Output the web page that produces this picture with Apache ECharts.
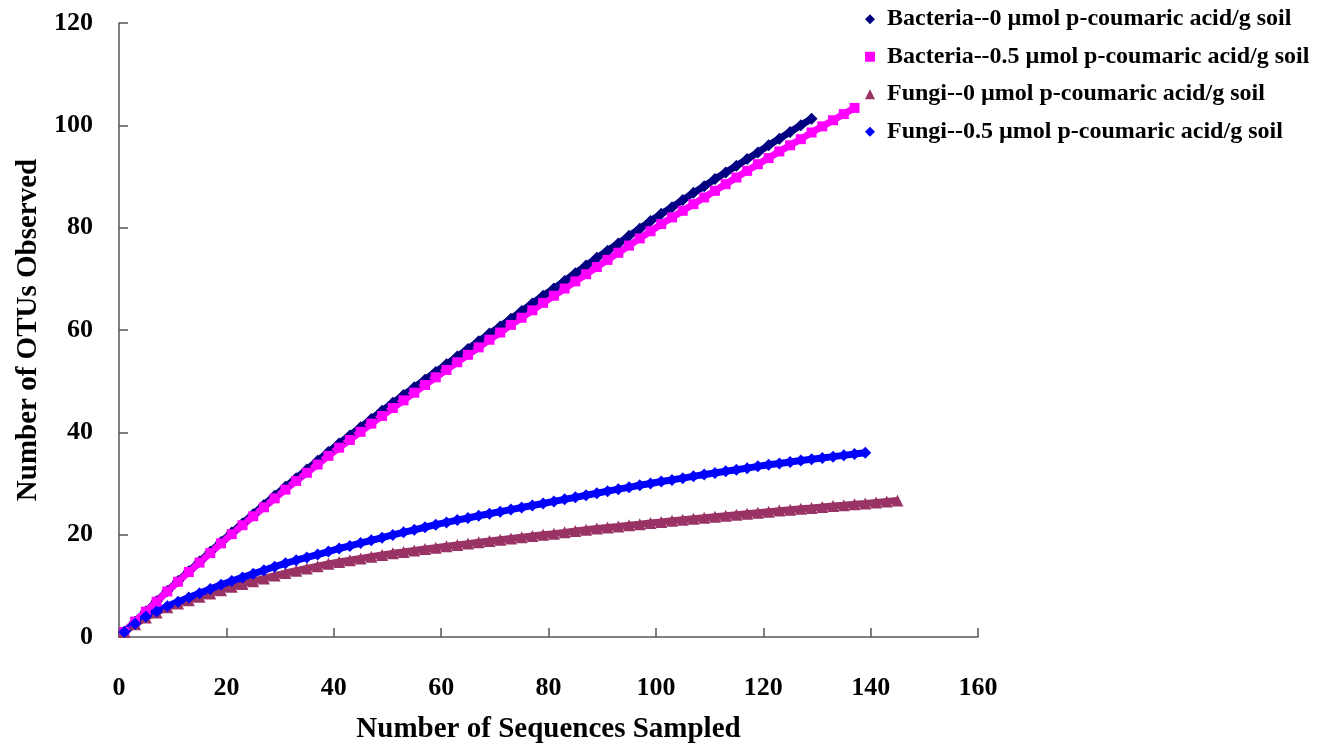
<!DOCTYPE html>
<html>
<head>
<meta charset="utf-8">
<script src="https://cdn.jsdelivr.net/npm/echarts@6/dist/echarts.min.js"></script>
<style>
html,body{margin:0;padding:0;background:#fff;}
#chart{width:1335px;height:744px;}
</style>
</head>
<body>
<div id="chart"></div>
<script>
// Series names (legend)
const seriesNames = [
  "Bacteria--0 \u00b5mol p-coumaric acid/g soil",
  "Bacteria--0.5 \u00b5mol p-coumaric acid/g soil",
  "Fungi--0 \u00b5mol p-coumaric acid/g soil",
  "Fungi--0.5 \u00b5mol p-coumaric acid/g soil"
];

// Sampling: x = 1, 3, 5, ... (number of sequences sampled)
const xStart = 1;
const xStep = 2;

// Number of OTUs observed
const bacteria0 = [
  1.0, 3.0, 5.0, 7.0, 9.0, 10.95, 12.85, 14.75, 16.65, 18.55,
  20.4, 22.2, 24.0, 25.8, 27.6, 29.35, 31.05, 32.75, 34.45, 36.15,
  37.8, 39.4, 41.0, 42.6, 44.2, 45.76, 47.3, 48.8, 50.3, 51.8,
  53.3, 54.8, 56.3, 57.8, 59.3, 60.7, 62.2, 63.7, 65.2, 66.7,
  68.1, 69.6, 71.1, 72.6, 74.1, 75.5, 76.9, 78.4, 79.8, 81.3,
  82.7, 84.0, 85.4, 86.8, 88.1, 89.5, 90.8, 92.1, 93.4, 94.7,
  96.1, 97.4, 98.7, 100.0, 101.3
];
const bacteria05 = [
  1.0, 3.0, 4.95, 6.9, 8.9, 10.8, 12.7, 14.55, 16.4, 18.3,
  20.1, 21.85, 23.6, 25.35, 27.1, 28.8, 30.5, 32.1, 33.7, 35.4,
  37.0, 38.5, 40.1, 41.7, 43.2, 44.75, 46.25, 47.75, 49.25, 50.75,
  52.2, 53.7, 55.15, 56.6, 58.1, 59.5, 61.0, 62.4, 63.85, 65.3,
  66.7, 68.1, 69.5, 70.9, 72.3, 73.7, 75.1, 76.5, 77.9, 79.3,
  80.7, 82.0, 83.3, 84.6, 85.9, 87.2, 88.5, 89.8, 91.1, 92.4,
  93.6, 94.9, 96.1, 97.3, 98.6, 99.8, 101.0, 102.2, 103.4
];
const fungi0 = [
  1.0, 2.5, 3.8, 4.8, 5.8, 6.55, 7.2, 7.85, 8.5, 9.15,
  9.8, 10.35, 10.9, 11.45, 12.0, 12.5, 12.95, 13.4, 13.85, 14.3,
  14.65, 15.0, 15.35, 15.7, 16.05, 16.35, 16.6, 16.9, 17.2, 17.45,
  17.75, 18.0, 18.25, 18.5, 18.75, 19.0, 19.25, 19.5, 19.75, 20.0,
  20.2, 20.45, 20.7, 20.95, 21.2, 21.4, 21.6, 21.85, 22.05, 22.3,
  22.5, 22.7, 22.9, 23.1, 23.3, 23.5, 23.7, 23.9, 24.1, 24.3,
  24.5, 24.7, 24.85, 25.05, 25.2, 25.4, 25.6, 25.75, 25.95, 26.1,
  26.3, 26.5, 26.7
];
const fungi05 = [
  1.0, 2.6, 4.0, 5.0, 6.0, 6.9, 7.7, 8.55, 9.4, 10.2,
  10.95, 11.65, 12.35, 13.05, 13.75, 14.4, 15.0, 15.55, 16.1, 16.7,
  17.3, 17.8, 18.35, 18.9, 19.4, 19.95, 20.45, 20.95, 21.45, 21.95,
  22.4, 22.85, 23.25, 23.7, 24.1, 24.5, 24.9, 25.3, 25.7, 26.1,
  26.5, 26.9, 27.3, 27.7, 28.1, 28.5, 28.9, 29.25, 29.65, 30.0,
  30.4, 30.7, 31.05, 31.4, 31.75, 32.05, 32.4, 32.7, 33.0, 33.35,
  33.65, 33.9, 34.2, 34.5, 34.75, 35.0, 35.25, 35.5, 35.75, 36.0
];

const xTicks = [0, 20, 40, 60, 80, 100, 120, 140, 160];
const yTicks = [0, 20, 40, 60, 80, 100, 120];

const colors = ['#000080', '#FF00FF', '#993366', '#0000FF'];
const symbols = ['diamond', 'rect', 'triangle', 'diamond'];
const symbolSizes = [12, 10, 12, 12];
const values = [bacteria0, bacteria05, fungi0, fungi05];

function toPairs(arr) {
  return arr.map((v, i) => [xStart + i * xStep, v]);
}

const font = 'Liberation Serif, Times New Roman, serif';

const chart = echarts.init(document.getElementById('chart'), null, {renderer: 'canvas'});
chart.setOption({
  animation: false,
  backgroundColor: '#ffffff',
  grid: {left: 119, top: 23, width: 859, height: 614, containLabel: false, outerBoundsMode: 'none'},
  legend: {
    orient: 'vertical',
    left: 860,
    top: 2,
    itemWidth: 10,
    itemHeight: 10,
    itemGap: 13,
    textStyle: {fontFamily: font, fontWeight: 'bold', fontSize: 24, lineHeight: 24.5, color: '#000', padding: [0, 0, 0, 7]},
    data: seriesNames.map((n, i) => ({name: n, icon: symbols[i]}))
  },
  xAxis: {
    type: 'value',
    min: 0, max: 160, interval: 20,
    name: 'Number of Sequences Sampled',
    nameLocation: 'middle',
    nameGap: 78,
    nameTextStyle: {fontFamily: font, fontWeight: 'bold', fontSize: 29, color: '#000'},
    axisLine: {show: true, onZero: false, lineStyle: {color: '#555', width: 1.5}},
    axisTick: {show: true, inside: true, length: 9, lineStyle: {color: '#555', width: 1.5}},
    axisLabel: {margin: 38, fontFamily: font, fontWeight: 'bold', fontSize: 26, color: '#000',
      formatter: v => xTicks.includes(v) ? String(v) : ''},
    splitLine: {show: false}
  },
  yAxis: {
    type: 'value',
    min: 0, max: 120, interval: 20,
    name: 'Number of OTUs Observed',
    nameLocation: 'middle',
    nameGap: 73,
    nameTextStyle: {fontFamily: font, fontWeight: 'bold', fontSize: 29, color: '#000'},
    axisLine: {show: true, lineStyle: {color: '#555', width: 1.5}},
    axisTick: {show: true, inside: true, length: 9, lineStyle: {color: '#555', width: 1.5}},
    axisLabel: {margin: 26, fontFamily: font, fontWeight: 'bold', fontSize: 26, color: '#000',
      formatter: v => yTicks.includes(v) ? String(v) : ''},
    splitLine: {show: false}
  },
  series: values.map((arr, i) => ({
    name: seriesNames[i],
    type: 'line',
    data: toPairs(arr),
    symbol: symbols[i],
    symbolSize: symbolSizes[i],
    showSymbol: true,
    showAllSymbol: true,
    lineStyle: {color: colors[i], width: 7},
    itemStyle: {color: colors[i], borderWidth: 0},
    emphasis: {disabled: true},
    clip: false
  }))
});
</script>
</body>
</html>
